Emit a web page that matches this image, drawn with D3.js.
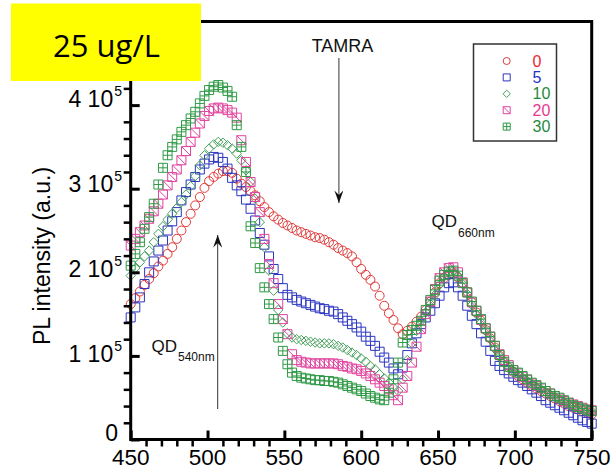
<!DOCTYPE html>
<html>
<head>
<meta charset="utf-8">
<script src="https://cdn.jsdelivr.net/npm/d3@7"></script>
<style>
  body { margin: 0; background: #fff; }
  text { font-family: "Liberation Sans", Arial, sans-serif; }
</style>
</head>
<body>
<svg id="chart" width="611" height="475"></svg>
<script>
// wavelengths in nm, one reading every 3 nm
var wavelength = d3.range(450, 751, 3);

// PL intensity, in units of 1e5
var int0 = [
  1.62,1.69,1.77,1.85,1.92,1.99,2.07,2.14,2.22,2.30,
  2.40,2.50,2.60,2.70,2.80,2.90,3.01,3.09,3.14,3.18,
  3.21,3.21,3.19,3.12,3.06,3.02,2.97,2.92,2.85,2.78,
  2.72,2.67,2.63,2.59,2.56,2.53,2.50,2.48,2.46,2.44,
  2.42,2.41,2.39,2.36,2.33,2.29,2.26,2.23,2.19,2.12,
  2.04,1.97,1.91,1.83,1.72,1.60,1.51,1.43,1.33,1.26,
  1.30,1.35,1.41,1.47,1.55,1.65,1.76,1.87,1.93,1.97,
  1.98,1.94,1.87,1.77,1.64,1.52,1.42,1.31,1.21,1.10,
  1.00,0.93,0.86,0.81,0.76,0.72,0.68,0.64,0.61,0.58,
  0.55,0.52,0.49,0.46,0.43,0.40,0.38,0.36,0.34,0.32,
  0.30];
var int5 = [
  1.46,1.58,1.70,1.86,2.00,2.13,2.26,2.38,2.50,2.61,
  2.72,2.86,2.96,3.05,3.14,3.23,3.30,3.35,3.38,3.37,
  3.32,3.24,3.13,3.04,2.97,2.87,2.76,2.62,2.47,2.33,
  2.19,2.04,1.92,1.81,1.73,1.70,1.67,1.65,1.63,1.61,
  1.59,1.57,1.56,1.54,1.53,1.50,1.46,1.42,1.38,1.34,
  1.29,1.23,1.18,1.12,1.05,0.98,0.92,0.85,0.78,0.86,
  1.01,1.15,1.27,1.38,1.46,1.54,1.63,1.72,1.82,1.87,
  1.88,1.82,1.72,1.60,1.48,1.38,1.27,1.17,1.06,0.94,
  0.88,0.83,0.79,0.75,0.71,0.68,0.64,0.60,0.56,0.52,
  0.47,0.44,0.41,0.38,0.35,0.32,0.29,0.26,0.23,0.21,
  0.19];
var int10 = [
  1.96,2.05,2.12,2.19,2.26,2.36,2.46,2.55,2.63,2.70,
  2.77,2.84,2.93,3.03,3.15,3.28,3.40,3.48,3.53,3.56,
  3.55,3.52,3.48,3.42,3.34,3.22,3.08,2.88,2.60,2.30,
  2.02,1.78,1.55,1.40,1.27,1.22,1.20,1.19,1.18,1.17,
  1.16,1.15,1.15,1.15,1.14,1.12,1.10,1.07,1.04,1.01,
  0.97,0.93,0.88,0.84,0.78,0.73,0.68,0.62,0.58,0.72,
  0.95,1.15,1.30,1.42,1.52,1.62,1.73,1.85,1.95,2.00,
  2.02,1.96,1.86,1.74,1.61,1.50,1.40,1.30,1.20,1.08,
  1.00,0.93,0.87,0.82,0.78,0.74,0.70,0.66,0.63,0.60,
  0.57,0.54,0.51,0.48,0.45,0.43,0.41,0.39,0.37,0.35,
  0.34];
var int20 = [
  2.32,2.40,2.48,2.56,2.64,2.73,2.82,2.93,3.04,3.14,
  3.23,3.34,3.45,3.56,3.67,3.78,3.87,3.93,3.96,3.97,
  3.96,3.94,3.91,3.85,3.58,3.32,3.08,2.90,2.72,2.40,
  2.10,1.87,1.62,1.44,1.26,1.02,0.95,0.93,0.92,0.91,
  0.91,0.91,0.91,0.91,0.91,0.90,0.88,0.87,0.85,0.84,
  0.82,0.79,0.76,0.72,0.68,0.64,0.60,0.53,0.47,0.62,
  0.76,0.92,1.11,1.32,1.50,1.65,1.80,1.93,2.00,2.05,
  2.06,2.00,1.88,1.76,1.64,1.54,1.43,1.33,1.23,1.12,
  1.02,0.95,0.89,0.83,0.79,0.75,0.71,0.67,0.64,0.61,
  0.58,0.55,0.52,0.49,0.46,0.44,0.42,0.40,0.38,0.36,
  0.35];
var int30 = [
  2.08,2.22,2.36,2.52,2.66,2.82,3.05,3.25,3.40,3.50,
  3.59,3.68,3.76,3.84,3.92,4.02,4.11,4.18,4.22,4.24,
  4.21,4.17,4.10,3.76,3.50,3.20,2.55,2.35,2.05,1.82,
  1.62,1.44,1.22,1.06,0.90,0.80,0.76,0.74,0.73,0.72,
  0.71,0.71,0.70,0.70,0.69,0.68,0.66,0.64,0.62,0.60,
  0.58,0.55,0.52,0.50,0.48,0.47,0.56,0.72,0.92,1.16,
  1.25,1.31,1.36,1.42,1.55,1.67,1.79,1.90,1.97,2.01,
  2.02,1.96,1.87,1.76,1.65,1.54,1.44,1.33,1.23,1.12,
  1.01,0.93,0.87,0.83,0.80,0.76,0.72,0.68,0.65,0.62,
  0.58,0.55,0.52,0.50,0.47,0.44,0.41,0.39,0.37,0.35,
  0.34];

var seriesNames = ["0", "5", "10", "20", "30"];
var seriesValues = [int0, int5, int10, int20, int30];
var markerTypes = ["circle", "square", "diamond", "slash", "cross"];
var markerColors = ["#e03a3a", "#2b35c0", "#45a05a", "#e0449e", "#2f9a46"];
var labelColors = ["#e8262e", "#2233c8", "#1f8a3a", "#e8388e", "#1f8a3a"];

var xMajor = [450, 500, 550, 600, 650, 700, 750];
var yMajor = [0, 1, 2, 3, 4];

var svg = d3.select("#chart");
var plotLeft = 130.7, plotRight = 591.7, plotTop = 21.5, plotBottom = 439.5;

var x = d3.scaleLinear().domain([450, 750]).range([plotLeft, plotRight]);
var y = d3.scaleLinear().domain([0, 5]).range([plotBottom, plotTop]);

function markerPath(type, s) {
    var h = s / 2;
    var sq = "M" + (-h) + "," + (-h) + "h" + s + "v" + s + "h" + (-s) + "Z";
    if (type == "circle") {
        return "M" + (-h) + ",0a" + h + "," + h + " 0 1,0 " + s + ",0a" + h + "," + h + " 0 1,0 " + (-s) + ",0Z";
    } else if (type == "square") {
        return sq;
    } else if (type == "diamond") {
        var d = h * 1.05;
        return "M0," + (-d) + "L" + d + ",0L0," + d + "L" + (-d) + ",0Z";
    } else if (type == "slash") {
        return sq + "M" + (-h) + "," + (-h) + "L" + h + "," + h;
    } else {
        return sq + "M0," + (-h) + "V" + h + "M" + (-h) + ",0H" + h;
    }
}

// data markers
seriesValues.forEach(function (vals, k) {
    var pts = wavelength.map(function (w, i) { return { w: w, v: vals[i] }; });
    svg.append("g")
        .attr("class", "series-" + seriesNames[k])
        .selectAll("path")
        .data(pts)
        .join("path")
        .attr("d", markerPath(markerTypes[k], 9))
        .attr("transform", function (d) { return "translate(" + x(d.w) + "," + y(d.v) + ")"; })
        .attr("fill", "none")
        .attr("stroke", markerColors[k])
        .attr("stroke-width", 1);
});

// frame
svg.append("rect")
    .attr("x", plotLeft).attr("y", plotTop)
    .attr("width", plotRight - plotLeft).attr("height", plotBottom - plotTop)
    .attr("fill", "none").attr("stroke", "#000").attr("stroke-width", 3);

// x axis: major ticks inside, minor ticks outside
var xMinor = d3.range(460, 750, 10).filter(function (v) { return v % 50 != 0; });
svg.append("g")
    .attr("transform", "translate(0," + plotBottom + ")")
    .call(d3.axisBottom(x).tickValues(xMajor).tickSize(-9).tickFormat(""))
    .call(function (g) { g.select(".domain").remove(); })
    .selectAll("line").attr("stroke-width", 3);
svg.append("g")
    .attr("transform", "translate(0," + plotBottom + ")")
    .call(d3.axisBottom(x).tickValues(xMinor).tickSize(7).tickFormat(""))
    .call(function (g) { g.select(".domain").remove(); })
    .selectAll("line").attr("stroke-width", 2.5);

svg.append("g")
    .selectAll("text")
    .data(xMajor)
    .join("text")
    .attr("x", function (d) { return x(d); })
    .attr("y", 465)
    .attr("text-anchor", "middle")
    .style("font-size", "22.5px")
    .text(function (d) { return d; });

// y axis
var yMinor = d3.range(0.2, 4.9, 0.2).filter(function (v) { return Math.abs(v - Math.round(v)) > 0.01; });
svg.append("g")
    .attr("transform", "translate(" + plotLeft + ",0)")
    .call(d3.axisLeft(y).tickValues(yMajor).tickSize(-9).tickFormat(""))
    .call(function (g) { g.select(".domain").remove(); })
    .selectAll("line").attr("stroke-width", 3);
svg.append("g")
    .attr("transform", "translate(" + plotLeft + ",0)")
    .call(d3.axisLeft(y).tickValues(yMinor).tickSize(7).tickFormat(""))
    .call(function (g) { g.select(".domain").remove(); })
    .selectAll("line").attr("stroke-width", 2.5);

// labels sit a little lower than their ticks towards the bottom, as in the original
var yLabels = svg.append("g")
    .selectAll("text")
    .data(yMajor)
    .join("text")
    .attr("x", function (d) { return d == 0 ? 118 : 122; })
    .attr("y", function (d) { return d == 0 ? y(d) + 1 : y(d) + 1.6 + (4 - d) * 1.4; })
    .attr("text-anchor", "end")
    .style("font-size", "23px");
yLabels.filter(function (d) { return d == 0; }).text("0");
yLabels.filter(function (d) { return d != 0; })
    .each(function (d) {
        var t = d3.select(this);
        t.append("tspan").text(d + " 10");
        t.append("tspan").attr("dy", -11).attr("dx", 1).style("font-size", "14px").text("5");
    });

svg.append("text")
    .attr("transform", "translate(50,256) rotate(-90)")
    .attr("text-anchor", "middle")
    .style("font-size", "23px")
    .text("PL intensity (a.u.)");

// annotations
svg.append("defs").append("marker")
    .attr("id", "arrowhead")
    .attr("viewBox", "0 0 14 10")
    .attr("refX", 14).attr("refY", 5)
    .attr("markerWidth", 13).attr("markerHeight", 9)
    .attr("markerUnits", "userSpaceOnUse")
    .attr("orient", "auto")
    .append("path")
    .attr("d", "M0,0L14,5L0,10L5,5Z")
    .attr("fill", "#111");

svg.append("text").attr("x", 342.5).attr("y", 52)
    .attr("text-anchor", "middle").style("font-size", "18px").attr("fill", "#111")
    .text("TAMRA");
svg.append("line")
    .attr("x1", x(585.5)).attr("x2", x(585.5))
    .attr("y1", 58).attr("y2", 203)
    .attr("stroke", "#333").attr("stroke-width", 1)
    .attr("marker-end", "url(#arrowhead)");

svg.append("line")
    .attr("x1", x(506.6)).attr("x2", x(506.6))
    .attr("y1", 409).attr("y2", 235)
    .attr("stroke", "#333").attr("stroke-width", 1)
    .attr("marker-end", "url(#arrowhead)");

var qd660 = svg.append("text").attr("x", 431.5).attr("y", 227).attr("fill", "#111");
qd660.append("tspan").style("font-size", "17px").text("QD");
qd660.append("tspan").attr("dy", 10).attr("dx", 1).style("font-size", "12px").text("660nm");

var qd540 = svg.append("text").attr("x", 151.5).attr("y", 351.5).attr("fill", "#111");
qd540.append("tspan").style("font-size", "17px").text("QD");
qd540.append("tspan").attr("dy", 9).attr("dx", 1).style("font-size", "12px").text("540nm");

// legend
var legend = svg.append("g");
legend.append("rect")
    .attr("x", 473.5).attr("y", 44).attr("width", 83).attr("height", 97)
    .attr("fill", "#fff").attr("stroke", "#333").attr("stroke-width", 1.5);
seriesNames.forEach(function (name, k) {
    var cy = 61 + k * 16.4;
    legend.append("path")
        .attr("d", markerPath(markerTypes[k], 7))
        .attr("transform", "translate(506.7," + cy + ")")
        .attr("fill", "none").attr("stroke", markerColors[k]).attr("stroke-width", 1);
    legend.append("text")
        .attr("x", 532.5).attr("y", cy + 5.5)
        .style("font-size", "16px")
        .attr("fill", labelColors[k])
        .text(name);
});

// concentration tag
svg.append("rect")
    .attr("x", 11).attr("y", 3.5).attr("width", 190).attr("height", 77.5)
    .attr("fill", "#ffff00");
svg.append("text")
    .attr("x", 106.5).attr("y", 56.5)
    .attr("text-anchor", "middle")
    .style("font-family", "'Open Sans', 'Noto Sans', sans-serif")
    .style("font-size", "31px")
    .attr("fill", "#000")
    .text("25 ug/L");
</script>
</body>
</html>
